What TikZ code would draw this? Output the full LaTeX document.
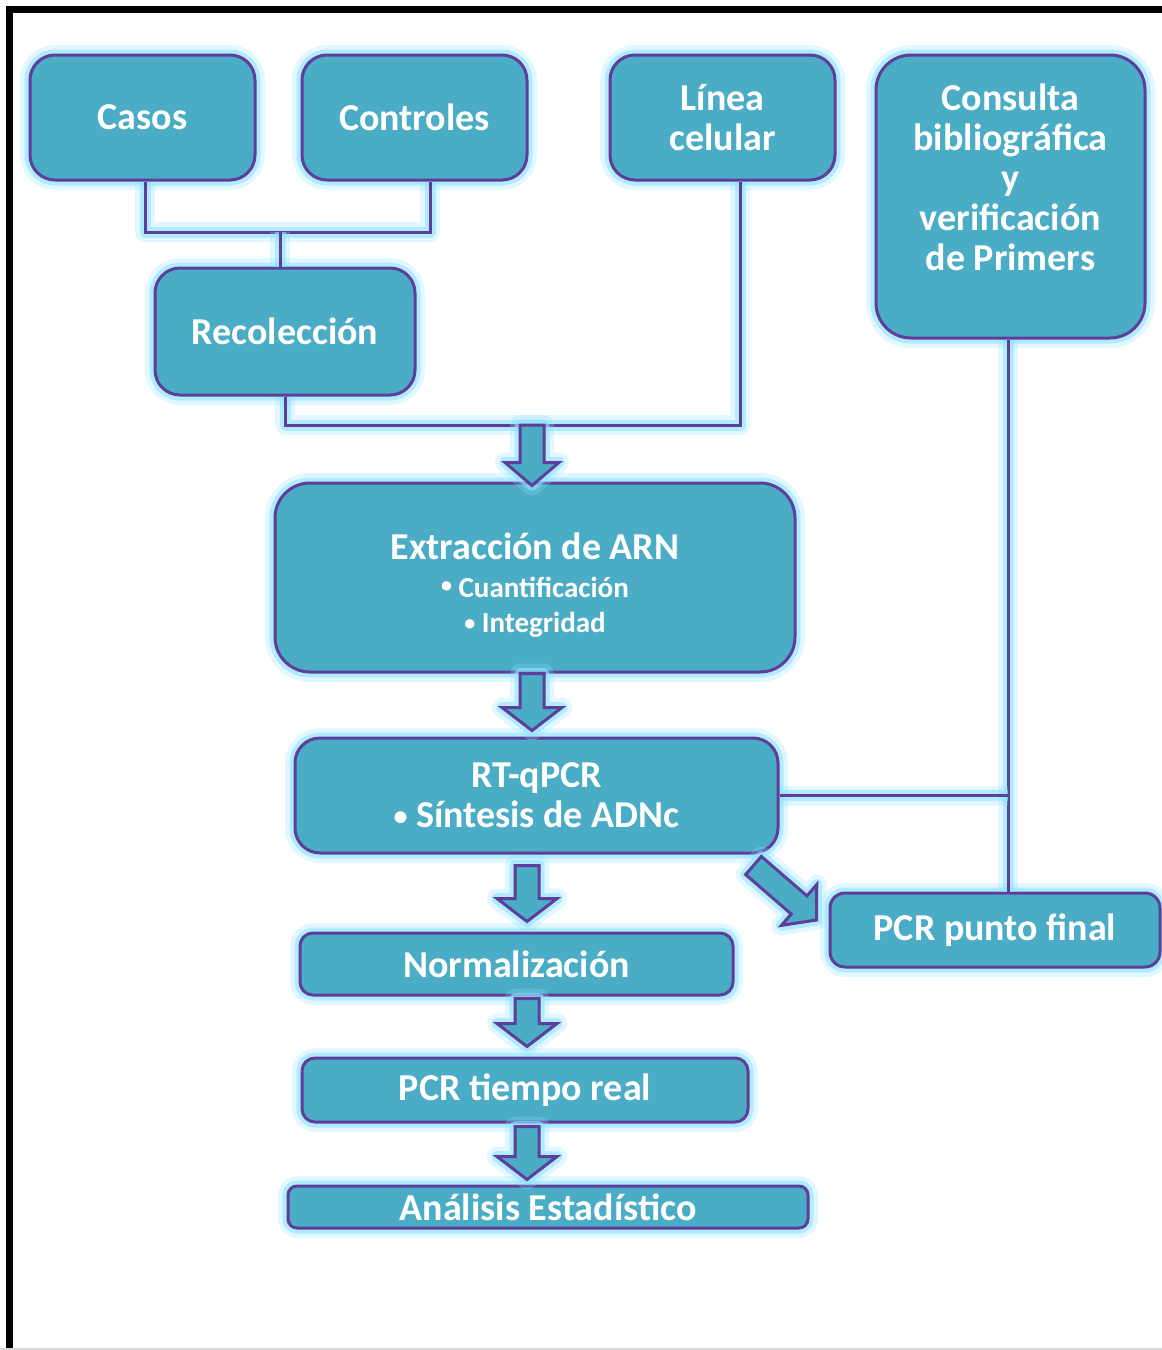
\documentclass[tikz,border=0pt]{standalone}
\usepackage{fontspec}
\setmainfont{Carlito}
\usetikzlibrary{calc}
\definecolor{boxfill}{HTML}{4BACC6}
\definecolor{boxline}{HTML}{5F3D9B}
\definecolor{glowc}{HTML}{8FE3FF}
\tikzset{
  glow/.style={preaction={draw=glowc,line width=20pt,opacity=0.25,line join=round},
               preaction={draw=glowc,line width=11pt,opacity=0.6,line join=round}},
  box/.style={glow, draw=boxline, line width=3pt, fill=boxfill, text=white,
              font=\bfseries\fontsize{38}{40}\selectfont, align=center, inner sep=0pt,
              rounded corners=#1},
  box/.default=25pt,
  conn/.style={glow, draw=boxline, line width=3pt},
  barrow/.style={glow, draw=boxline, line width=3pt, fill=boxfill, line join=miter},
}
\newcommand\mybul[2]{{\fontsize{#1}{0}\selectfont\raisebox{#2}{•}}}
\newcommand\blockarr[3][30pt]{%
  \path ($(#3)!23pt!(#2)$) coordinate (bah);
  \filldraw[barrow] ($(#2)!12pt!90:(#3)$) -- ($(bah)!12pt!90:(#3)$) -- ($(bah)!#1!90:(#3)$)
    -- (#3) -- ($(bah)!#1!-90:(#3)$) -- ($(bah)!12pt!-90:(#3)$) -- ($(#2)!12pt!-90:(#3)$) -- cycle;
}
\begin{document}
\begin{tikzpicture}[x=1pt,y=-1pt]
\useasboundingbox (0,0) rectangle (1162,1350);
\fill[white] (0,0) rectangle (1162,1350);
% frame
\draw[line width=6.5pt,line join=miter] (1162,9.5) -- (9.5,9.5) -- (9.5,1350);
\draw[black!15,line width=1.5pt] (0,1349) -- (1162,1349);

% boxes
\node[box, minimum width=225pt, minimum height=125pt] (casos) at (142.5,117.5) {Casos};
\node[box, minimum width=225pt, minimum height=125pt] (controles) at (414.5,117.5) {Controles};
\node[box, minimum width=225pt, minimum height=125pt] (linea) at (722.5,117.5) {Línea\\celular};
\node[box=35pt, minimum width=269pt, minimum height=283pt] (consulta) at (1010.5,196.5)
  {Consulta\\bibliográfica\\y\\verificación\\de Primers\\[-2pt]\mbox{}};
\node[box, minimum width=260pt, minimum height=127pt] (recol) at (285,331.5) {Recolección};
\node[box=35pt, minimum width=520pt, minimum height=189pt] (extr) at (535,577.5)
  {\rule{0pt}{41pt}Extracción de ARN\\[-2pt]{\fontsize{29}{34}\selectfont \mybul{22}{5pt} Cuantificación}\\[-5pt]{\fontsize{29}{34}\selectfont \mybul{22}{2pt} Integridad}};
\node[box, minimum width=483pt, minimum height=115pt] (rtq) at (536.5,795.5) {RT-qPCR\\\mybul{28}{2pt} Síntesis de ADNc};
\node[box=15pt, minimum width=330pt, minimum height=74pt] (pcrpf) at (995,930) {PCR punto final};
\node[box=13pt, minimum width=433pt, minimum height=62pt] (norm) at (516.5,964) {Normalización};
\node[box=13pt, minimum width=446pt, minimum height=64pt] (pcrtr) at (525,1090) {PCR tiempo real};
\node[box=9pt, minimum width=520pt, minimum height=42pt] (anal) at (548,1207) {Análisis Estadístico};

% connectors
\coordinate (ab) at ($(casos.south)+(2.5,0)$);
\coordinate (cb) at ($(controles.south)+(15.5,0)$);
\coordinate (j1) at (280,232);
\draw[conn] (ab) |- (j1) -| (cb);
\draw[conn] (j1) -- (j1 |- recol.north);
\coordinate (lb) at ($(linea.south)+(17.5,0)$);
\coordinate (j2) at (740,425);
\draw[conn] (recol.south) |- (j2) -- (lb);
\coordinate (cs) at ($(consulta.south)+(-2.5,0)$);
\draw[conn] (cs) -- (cs |- pcrpf.north);
\draw[conn] (rtq.east) -- (rtq.east -| cs);

% block arrows
\coordinate (a1s) at ($(extr.north |- j2)+(-3,0)$);
\coordinate (a1e) at ($(extr.north)+(-3,4)$);
\blockarr[27pt]{a1s}{a1e}
\coordinate (a2s) at ($(extr.south)+(-3,0)$);
\coordinate (a2e) at ($(rtq.north)+(-4.5,-6)$);
\blockarr{a2s}{a2e}
\coordinate (a3s) at ($(rtq.south)+(-9.5,11)$);
\coordinate (a3e) at ($(norm.north)+(10.5,-10)$);
\blockarr{a3s}{a3e}
\coordinate (a4s) at ($(norm.south)+(10.5,2)$);
\coordinate (a4e) at ($(pcrtr.north)+(2,-10)$);
\blockarr{a4s}{a4e}
\coordinate (a5s) at ($(pcrtr.south)+(2,3)$);
\coordinate (a5e) at ($(anal.north)+(-21,-5)$);
\blockarr{a5s}{a5e}
\coordinate (a6s) at ($(rtq.south east)+(-26,11)$);
\coordinate (a6e) at ($(pcrpf.west)+(-12,-10)$);
\blockarr[27pt]{a6s}{a6e}
\end{tikzpicture}
\end{document}
